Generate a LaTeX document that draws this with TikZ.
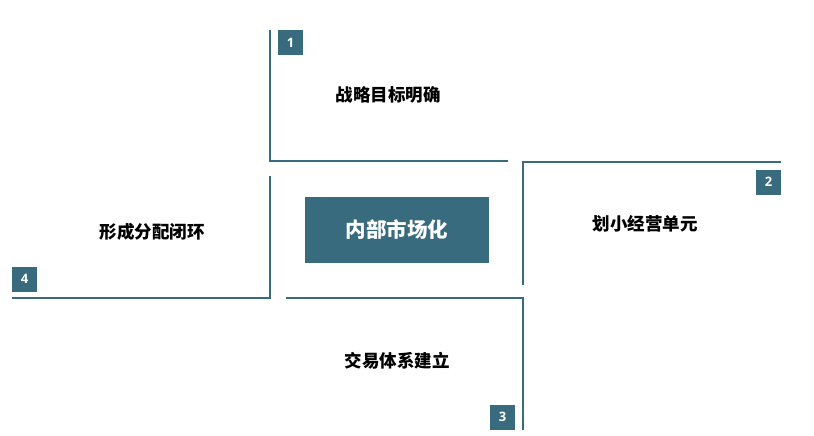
\documentclass[tikz,border=0pt]{standalone}
\usepackage{fontspec}
\newfontfamily\cjk{Noto Sans CJK SC}
\newfontfamily\numfont{Open Sans}
\definecolor{teal}{RGB}{55,107,125}
\tikzset{
  frameline/.style={draw=teal, line width=2pt},
  badge/.style={fill=teal, minimum width=25pt, minimum height=25pt, inner sep=0pt, text=white, font=\numfont\bfseries\fontsize{13}{13}\selectfont},
  label/.style={font=\cjk\bfseries\fontsize{17.5}{18}\selectfont, text=black, inner sep=0pt},
  center/.style={fill=teal, minimum width=184pt, minimum height=66pt, inner sep=0pt, text=white, font=\cjk\bfseries\fontsize{20.5}{21}\selectfont}
}
\begin{document}
\begin{tikzpicture}[x=1pt,y=-1pt]
\useasboundingbox[fill=white] (0,0) rectangle (814,436);
% quadrant 1
\coordinate (a1) at (270,30);
\coordinate (b1) at (270,161);
\coordinate (c1) at (508,161);
\draw[frameline] (a1) -- (b1) -- (c1);
\node[badge] (n1) at (290.5,42.5) {1};
\node[label] (t1) at (388,95) {战略目标明确};
% quadrant 2
\coordinate (a2) at (781,162);
\coordinate (b2) at (523,162);
\coordinate (c2) at (523,285);
\draw[frameline] (a2) -- (b2) -- (c2);
\node[badge] (n2) at (768.5,182) {2};
\node[label] (t2) at (645,224) {划小经营单元};
% quadrant 3
\coordinate (a3) at (286,298);
\coordinate (b3) at (523,298);
\coordinate (c3) at (523,430);
\draw[frameline] (a3) -- (b3) -- (c3);
\node[badge] (n3) at (502.5,417) {3};
\node[label] (t3) at (397,361) {交易体系建立};
% quadrant 4
\coordinate (a4) at (270,176);
\coordinate (b4) at (270,298);
\coordinate (c4) at (12,298);
\draw[frameline] (a4) -- (b4) -- (c4);
\node[badge] (n4) at (24.5,279) {4};
\node[label] (t4) at (152,232) {形成分配闭环};
% centre
\node[center] (c) at (397,230) {内部市场化};
\end{tikzpicture}
\end{document}
